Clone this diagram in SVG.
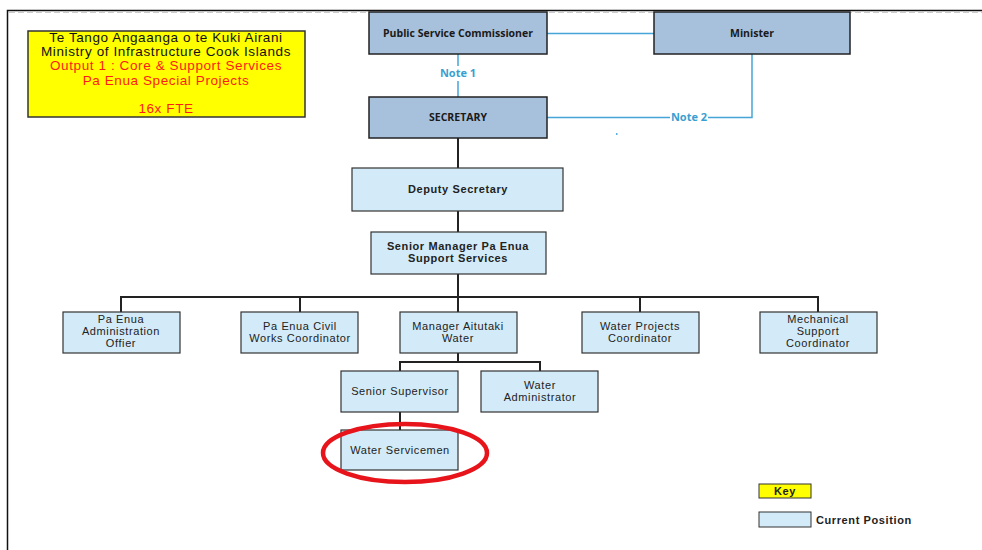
<svg xmlns="http://www.w3.org/2000/svg" width="982" height="550" viewBox="0 0 982 550">
<style>
.dk{fill:#a7c1dd;stroke:#222;stroke-width:1.5}
.lt{fill:#d3ebf8;stroke:#333;stroke-width:1.2}
.tb{font-family:"Open Sans","DejaVu Sans",sans-serif;font-weight:bold;font-size:10.5px;fill:#1a1a1a;text-anchor:middle}
.ta{font-family:"Liberation Sans",Arial,sans-serif;font-size:11px;letter-spacing:0.6px;fill:#222;text-anchor:middle}
.tab{font-family:"Liberation Sans",Arial,sans-serif;font-size:11px;letter-spacing:0.6px;font-weight:bold;fill:#222;text-anchor:middle}
.hd{font-family:"Liberation Sans",Arial,sans-serif;font-size:13.5px;letter-spacing:0.6px;text-anchor:middle}
.bl{stroke:#45a5d6;stroke-width:1.5;fill:none}
.k{stroke:#222;stroke-width:2;fill:none}
.nt{font-family:"Open Sans","DejaVu Sans",sans-serif;font-weight:bold;font-size:11px;fill:#3a9fd0;text-anchor:middle}
</style>
<rect width="982" height="550" fill="#fff"/>
<g id="border">
<path d="M7.5 550 V10.5 H982" stroke="#111" stroke-width="1.5" fill="none"/>
<line x1="9" y1="12.5" x2="982" y2="12.5" stroke="#ccc" stroke-width="1" stroke-dasharray="6 3"/>
</g>
<g id="connectors">
<line class="bl" x1="547" y1="33.5" x2="654" y2="33.5"/>
<line class="bl" x1="458" y1="54" x2="458" y2="66"/>
<line class="bl" x1="458" y1="81" x2="458" y2="97"/>
<path class="bl" d="M547 117.5 H670 M708 117.5 H752 V54"/>
<rect x="616" y="133" width="1.5" height="2" fill="#5ab0e0"/>
<path class="k" d="M458 138 V168 M458 211 V232 M458 274 V312 M121 312 V297 H818 V312 M300 297 V312 M640 297 V312 M458 353 V362 M400 371 V362 H540 V371 M400 412 V430"/>
</g>
<g id="header">
<rect x="28" y="31" width="277" height="86" fill="#ffff00" stroke="#333" stroke-width="1.5"/>
<text class="hd" x="166" y="42" fill="#111">Te Tango Angaanga o te Kuki Airani</text>
<text class="hd" x="166" y="56" fill="#111">Ministry of Infrastructure Cook Islands</text>
<text class="hd" x="166" y="70" fill="#ff1a1a">Output 1 : Core &amp; Support Services</text>
<text class="hd" x="166" y="85" fill="#ff1a1a">Pa Enua Special Projects</text>
<text class="hd" x="166" y="113" fill="#ff1a1a">16x FTE</text>
</g>
<g id="psc"><rect class="dk" x="369" y="12" width="178" height="42"/><text class="tb" x="458" y="36.5">Public Service Commissioner</text></g>
<g id="minister"><rect class="dk" x="654" y="12" width="196" height="42"/><text class="tb" x="752" y="36.5">Minister</text></g>
<g id="note1"><text class="nt" x="458" y="77">Note 1</text></g>
<g id="note2"><text class="nt" x="689" y="121">Note 2</text></g>
<g id="secretary"><rect class="dk" x="369" y="97" width="178" height="41"/><text class="tb" x="458" y="121">SECRETARY</text></g>
<g id="deputy"><rect class="lt" x="352" y="168" width="211" height="43"/><text class="tab" x="458" y="193">Deputy Secretary</text></g>
<g id="seniormgr"><rect class="lt" x="371" y="232" width="175" height="42"/><text class="tab" x="458" y="250">Senior Manager Pa Enua</text><text class="tab" x="458" y="262">Support Services</text></g>
<g id="admin"><rect class="lt" x="63" y="312" width="117" height="41"/><text class="ta" x="121" y="323">Pa Enua</text><text class="ta" x="121" y="335">Administration</text><text class="ta" x="121" y="347">Offier</text></g>
<g id="civil"><rect class="lt" x="241" y="312" width="117" height="41"/><text class="ta" x="300" y="330">Pa Enua Civil</text><text class="ta" x="300" y="342">Works Coordinator</text></g>
<g id="aitutaki"><rect class="lt" x="400" y="312" width="117" height="41"/><text class="ta" x="458" y="330">Manager Aitutaki</text><text class="ta" x="458" y="342">Water</text></g>
<g id="waterproj"><rect class="lt" x="582" y="312" width="117" height="41"/><text class="ta" x="640" y="330">Water Projects</text><text class="ta" x="640" y="342">Coordinator</text></g>
<g id="mech"><rect class="lt" x="760" y="312" width="117" height="41"/><text class="ta" x="818" y="323">Mechanical</text><text class="ta" x="818" y="335">Support</text><text class="ta" x="818" y="347">Coordinator</text></g>
<g id="supervisor"><rect class="lt" x="341" y="371" width="117" height="41"/><text class="ta" x="400" y="395">Senior Supervisor</text></g>
<g id="wateradmin"><rect class="lt" x="481" y="371" width="117" height="41"/><text class="ta" x="540" y="389">Water</text><text class="ta" x="540" y="401">Administrator</text></g>
<g id="servicemen"><rect class="lt" x="341" y="430" width="117" height="40"/><text class="ta" x="400" y="454">Water Servicemen</text></g>
<g id="highlight"><ellipse cx="405" cy="453" rx="82" ry="29" fill="none" stroke="#e8141b" stroke-width="4.5"/></g>
<g id="key">
<rect x="759" y="484" width="52" height="14" fill="#ffff00" stroke="#333" stroke-width="1"/>
<text class="tab" x="785" y="495">Key</text>
<rect x="759" y="512" width="52" height="15" fill="#d3ebf8" stroke="#333" stroke-width="1"/>
<text x="816" y="524" font-family="Liberation Sans,Arial,sans-serif" font-size="11" letter-spacing="0.6" font-weight="bold" fill="#222">Current Position</text>
</g>
</svg>
